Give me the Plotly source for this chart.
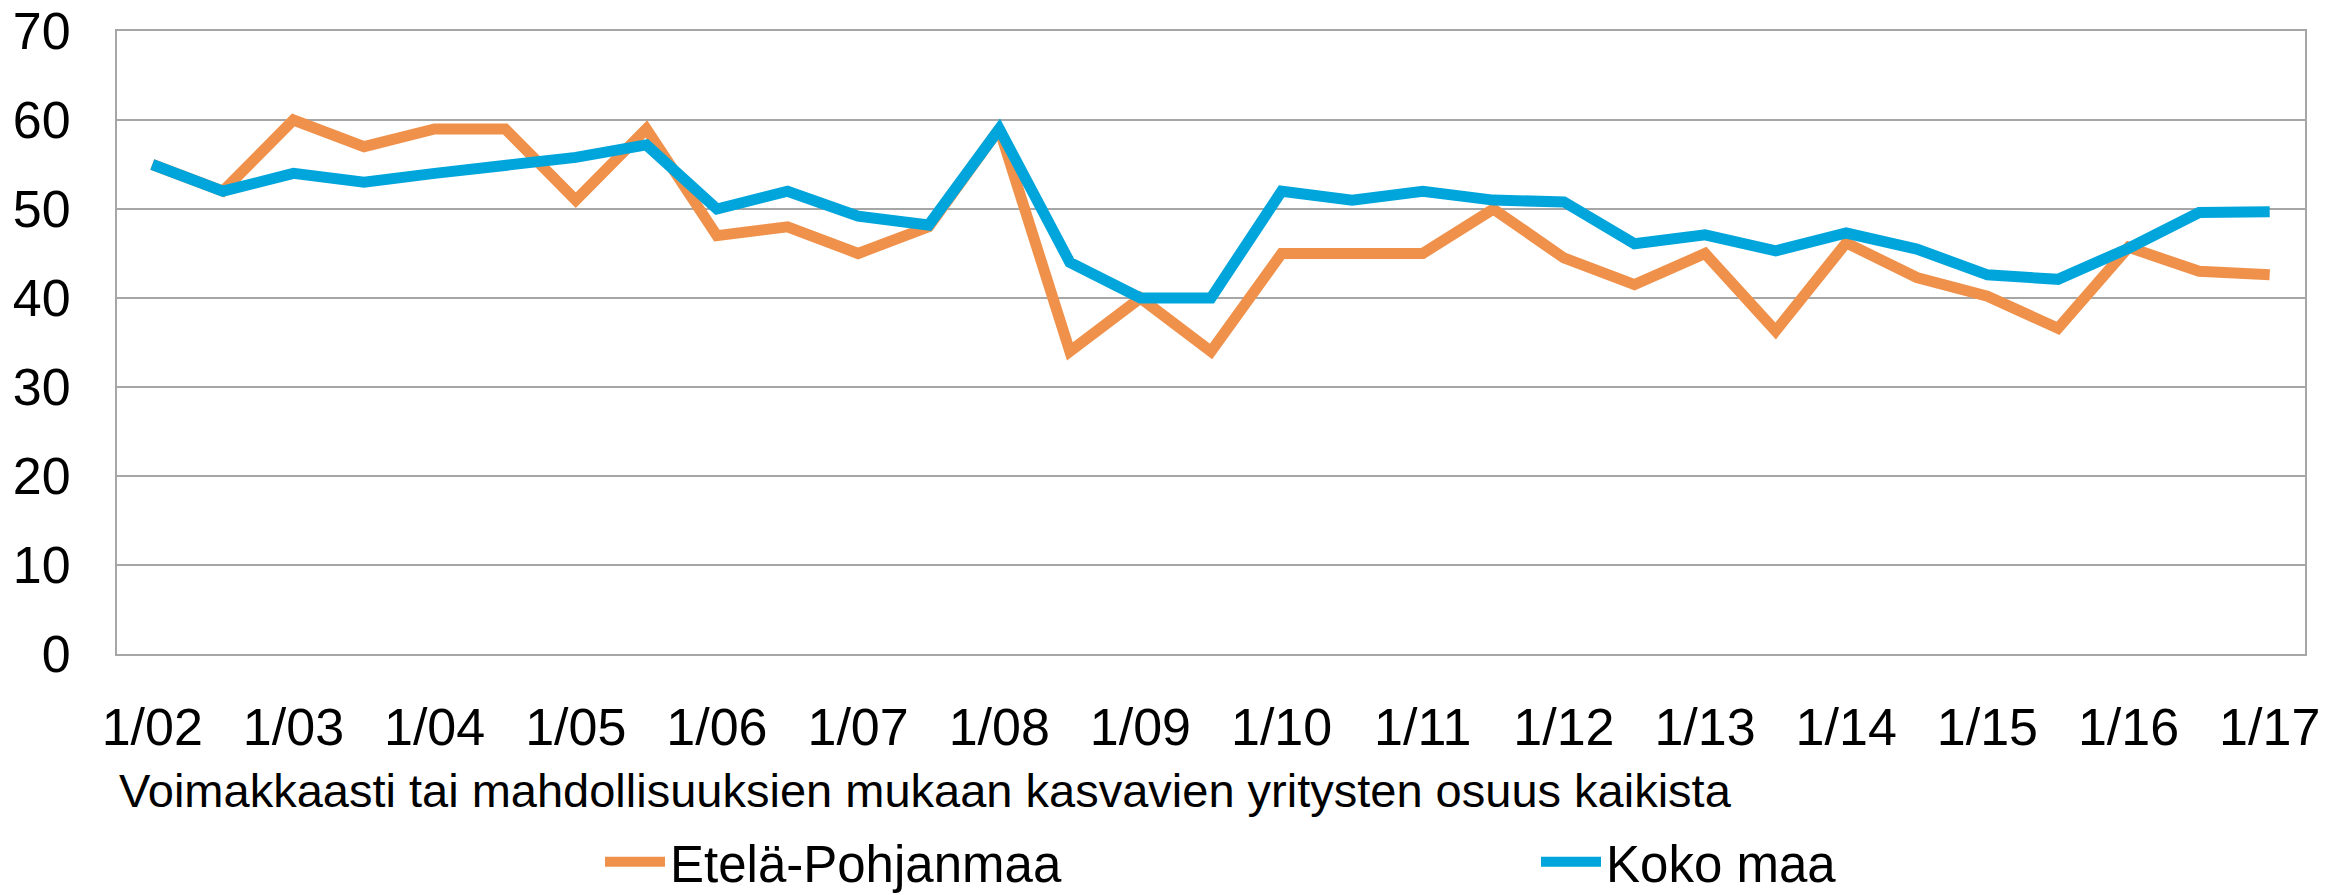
import plotly.graph_objects as go

# Half-year survey rounds 1/02 ... 1/17
years = [f"{y:02d}" for y in range(2, 18)]
categories = []
for y in years:
    categories.append("1/" + y)
    if y != "17":
        categories.append("7/" + y)

tick_labels = ["1/" + y for y in years]

etela_pohjanmaa = [55, 52, 60, 57, 59, 59, 51, 59, 47, 48,
                   45, 48, 59, 34, 40, 34, 45, 45, 45, 50,
                   44.5, 41.5, 45, 36.3, 46.2, 42.3, 40.2, 36.6, 45.7, 43, 42.6]
koko_maa = [55, 52, 54, 53, 54, 54.8, 55.8, 57.2, 50, 52,
            49.2, 48.2, 59, 44, 40, 40, 52, 51, 52, 51,
            50.8, 46.1, 47.1, 45.3, 47.3, 45.5, 42.6, 42.1, 45.6, 49.6, 49.7]

series_names = ["Etelä-Pohjanmaa", "Koko maa"]
series_colors = ["#F0914B", "#00A5DB"]
axis_title = "Voimakkaasti tai mahdollisuuksien mukaan kasvavien yritysten osuus kaikista"

FONT = "Liberation Sans, Arial, sans-serif"
W, H = 2351, 895

fig = go.Figure()
fig.add_trace(go.Scatter(x=categories, y=etela_pohjanmaa, mode="lines",
                         name=series_names[0], legend="legend", showlegend=True,
                         line=dict(color=series_colors[0], width=11)))
fig.add_trace(go.Scatter(x=categories, y=koko_maa, mode="lines",
                         name=series_names[1], legend="legend2", showlegend=True,
                         line=dict(color=series_colors[1], width=11)))

grid = "#A6A6A6"
fig.update_layout(
    width=W, height=H,
    margin=dict(l=117, r=46, t=31, b=241),
    paper_bgcolor="white", plot_bgcolor="white",
    showlegend=True,
    font=dict(family=FONT, color="black"),
    xaxis=dict(type="category", categoryorder="array", categoryarray=categories,
               tickmode="array", tickvals=tick_labels, ticktext=tick_labels,
               tickfont=dict(size=52), ticks="", ticklabelstandoff=27,
               showgrid=False, showline=True, linecolor=grid, linewidth=2,
               mirror=True, zeroline=False, automargin=False,
               range=[-0.5, len(categories) - 0.5]),
    yaxis=dict(range=[0, 70], dtick=10, tickfont=dict(size=52), ticks="",
               ticklabelstandoff=34, automargin=False,
               showgrid=True, gridcolor=grid, gridwidth=2,
               showline=True, linecolor=grid, linewidth=2, mirror=True,
               zeroline=False),
    legend=dict(orientation="h", xref="container", yref="container",
                x=600 / W, y=1 - 862 / H, xanchor="left", yanchor="middle",
                font=dict(size=51), itemwidth=60, bgcolor="rgba(0,0,0,0)"),
    legend2=dict(orientation="h", xref="container", yref="container",
                 x=1536 / W, y=1 - 862 / H, xanchor="left", yanchor="middle",
                 font=dict(size=51), itemwidth=60, bgcolor="rgba(0,0,0,0)"),
    annotations=[dict(text=axis_title, xref="paper", yref="paper",
                      x=0, y=-(790 - 654) / (654 - 31), xanchor="left",
                      yanchor="middle", showarrow=False, font=dict(size=47))],
    hovermode=False,
)

fig.write_html("out.html", config={"displayModeBar": False},
               post_script="document.body.style.margin='0';document.body.style.overflow='hidden';")
